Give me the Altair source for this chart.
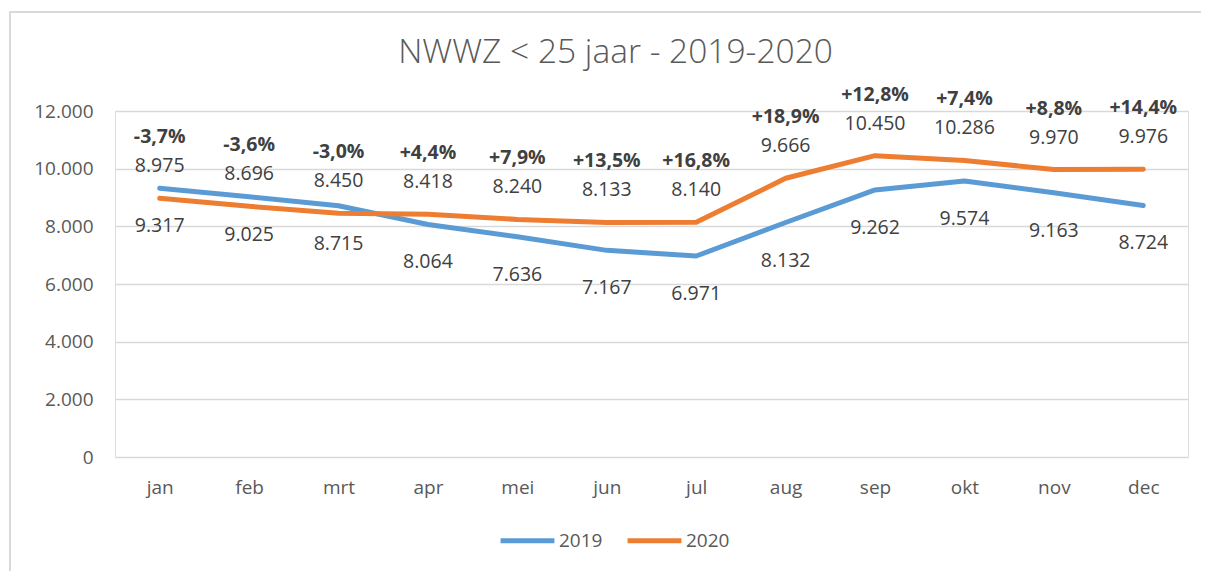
import altair as alt
import pandas as pd

months = ["jan", "feb", "mrt", "apr", "mei", "jun", "jul", "aug", "sep", "okt", "nov", "dec"]
v2019 = [9317, 9025, 8715, 8064, 7636, 7167, 6971, 8132, 9262, 9574, 9163, 8724]
v2020 = [8975, 8696, 8450, 8418, 8240, 8133, 8140, 9666, 10450, 10286, 9970, 9976]
pct_labels = ["-3,7%", "-3,6%", "-3,0%", "+4,4%", "+7,9%", "+13,5%", "+16,8%",
              "+18,9%", "+12,8%", "+7,4%", "+8,8%", "+14,4%"]
years = ["2019", "2020"]
y_ticks = [0, 2000, 4000, 6000, 8000, 10000, 12000]

def fmt(v):
    return f"{v:,}".replace(",", ".")

rows = []
for m, a, b, p in zip(months, v2019, v2020, pct_labels):
    rows.append({"maand": m, "jaar": "2019", "waarde": a, "label": fmt(a), "pct": p})
    rows.append({"maand": m, "jaar": "2020", "waarde": b, "label": fmt(b), "pct": p})
df = pd.DataFrame(rows)

W, H = 1073, 346
FONT = "Open Sans"
BLUE, ORANGE = "#5B9BD5", "#ED7D31"

x = alt.X("maand:N", sort=months, title=None,
          axis=alt.Axis(labelAngle=0, domain=False, ticks=False, labelFontSize=19,
                        labelColor="#595959", labelFont=FONT, labelPadding=21))
y = alt.Y("waarde:Q", title=None,
          scale=alt.Scale(domain=[0, 12000], nice=False),
          axis=alt.Axis(values=y_ticks, domain=False, ticks=False, gridColor="#d9d9d9",
                        gridWidth=1.3, labelFontSize=19, labelColor="#595959", labelFont=FONT,
                        labelPadding=22,
                        labelExpr="replace(format(datum.value, ',d'), ',', '.')"))

base = alt.Chart(df)

lines = base.mark_line(strokeWidth=5, strokeCap="round", strokeJoin="round").encode(
    x=x, y=y,
    color=alt.Color("jaar:N", scale=alt.Scale(domain=years, range=[BLUE, ORANGE]),
                    legend=alt.Legend(title=None, orient="none", direction="horizontal",
                                      legendX=383, legendY=400,
                                      symbolType="stroke", symbolSize=2900,
                                      symbolStrokeWidth=5, labelFontSize=19,
                                      labelColor="#595959", labelFont=FONT,
                                      labelOffset=2, columnPadding=14)),
)

lab20 = base.transform_filter(alt.datum.jaar == "2020").mark_text(
    dy=-32, fontSize=19.5, font=FONT, color="#404040").encode(x=x, y=y, text="label:N")
lab19 = base.transform_filter(alt.datum.jaar == "2019").mark_text(
    dy=38, fontSize=19.5, font=FONT, color="#404040").encode(x=x, y=y, text="label:N")
pct = base.transform_filter(alt.datum.jaar == "2020").mark_text(
    dy=-61, fontSize=19.5, font=FONT, fontWeight="bold", color="#404040").encode(
    x=x, y=y, text="pct:N")

frame_top = alt.Chart(df).mark_rule(color="#d9d9d9", strokeWidth=2).encode(
    x=alt.value(-105), x2=alt.value(W + 30), y=alt.value(-99))
frame_left = alt.Chart(df).mark_rule(color="#d9d9d9", strokeWidth=2).encode(
    x=alt.value(-105), y=alt.value(-100), y2=alt.value(H + 130))

chart = alt.layer(frame_top, frame_left, lines, lab20, lab19, pct).properties(
    width=W, height=H,
    autosize=alt.AutoSizeParams(type="none"),
    padding={"left": 107, "top": 103, "right": 13, "bottom": 114},
    title=alt.Title("NWWZ < 25 jaar - 2019-2020", fontSize=33.5, font=FONT,
                    fontWeight=300, color="#595959", anchor="middle", frame="group",
                    baseline="alphabetic", offset=-86, dx=-36),
).configure_view(stroke=None).configure(background="white")

chart.save("out.html", embed_options={"renderer": "svg", "actions": False})
